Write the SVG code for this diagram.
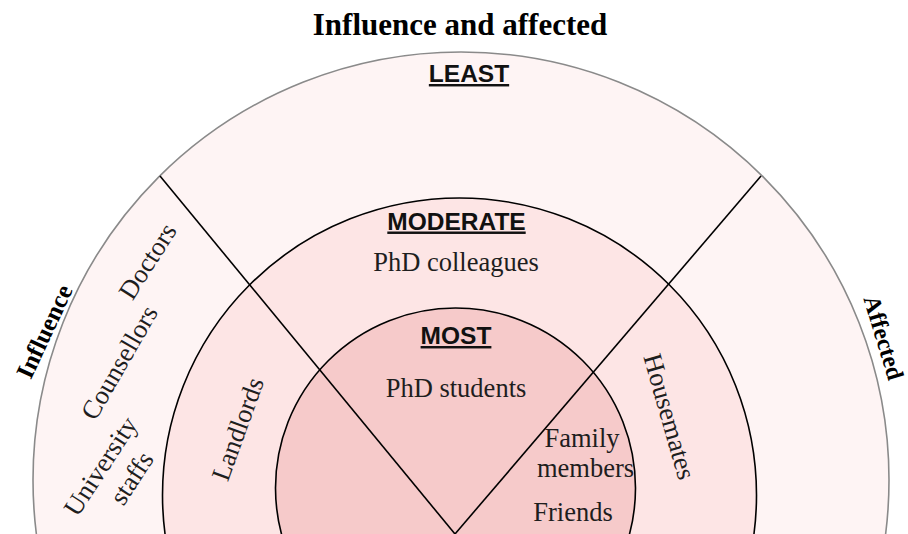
<svg xmlns="http://www.w3.org/2000/svg" width="908" height="534" viewBox="0 0 908 534">
  <style>
    .ring { stroke: #000; stroke-width: 1.6; }
    .outer { fill: #fef4f4; stroke: #8a8a8a; stroke-width: 1.6; }
    .middle { fill: #fde5e5; }
    .inner { fill: #f6caca; }
    .head { font-family: "Liberation Sans", Arial, sans-serif; font-weight: bold; font-size: 24.5px; fill: #111; text-anchor: middle; text-decoration: underline; }
    .lbl { font-family: "Liberation Serif", "Times New Roman", serif; font-size: 26.5px; fill: #1e1e1e; text-anchor: middle; }
    .side { font-family: "Liberation Serif", "Times New Roman", serif; font-weight: bold; font-size: 25px; fill: #000; text-anchor: middle; }
    .title { font-family: "Liberation Serif", "Times New Roman", serif; font-weight: bold; font-size: 31px; fill: #000; text-anchor: middle; }
    .conn { stroke: #000; stroke-width: 1.6; fill: none; }
  </style>
  <rect width="908" height="534" fill="#ffffff"/>

  <g id="title">
    <text class="title" x="460" y="35">Influence and affected</text>
  </g>

  <g id="least-zone">
    <circle class="outer" cx="461" cy="480" r="428"/>
    <text class="head" x="469" y="82">LEAST</text>
  </g>

  <g id="moderate-zone">
    <circle class="middle ring" cx="459.5" cy="495" r="297"/>
    <text class="head" x="456.5" y="229.5">MODERATE</text>
  </g>

  <g id="most-zone">
    <circle class="inner ring" cx="455.5" cy="488" r="180"/>
    <text class="head" x="456" y="344">MOST</text>
  </g>

  <g id="connectors">
    <line class="conn" x1="160" y1="176" x2="455" y2="534"/>
    <line class="conn" x1="761" y1="176" x2="455" y2="534"/>
  </g>

  <g id="axis-influence">
    <text class="side" transform="translate(52,335) rotate(-65)">Influence</text>
  </g>
  <g id="axis-affected">
    <text class="side" style="font-size:24px" transform="translate(876,340) rotate(73)">Affected</text>
  </g>

  <g id="node-doctors">
    <text class="lbl" transform="translate(155,266) rotate(-57.5)">Doctors</text>
  </g>
  <g id="node-counsellors">
    <text class="lbl" transform="translate(127,367) rotate(-60)">Counsellors</text>
  </g>
  <g id="node-university-staffs">
    <text class="lbl" transform="translate(108,471) rotate(-57)">University</text>
    <text class="lbl" transform="translate(139,483) rotate(-57)">staffs</text>
  </g>
  <g id="node-landlords">
    <text class="lbl" transform="translate(246,432) rotate(-70)">Landlords</text>
  </g>
  <g id="node-housemates">
    <text class="lbl" transform="translate(661,419) rotate(74)">Housemates</text>
  </g>
  <g id="node-phd-colleagues">
    <text class="lbl" x="456" y="271">PhD colleagues</text>
  </g>
  <g id="node-phd-students">
    <text class="lbl" x="456" y="397">PhD students</text>
  </g>
  <g id="node-family-members">
    <text class="lbl" x="582" y="447">Family</text>
    <text class="lbl" x="585.5" y="477">members</text>
  </g>
  <g id="node-friends">
    <text class="lbl" x="573" y="521">Friends</text>
  </g>
</svg>
